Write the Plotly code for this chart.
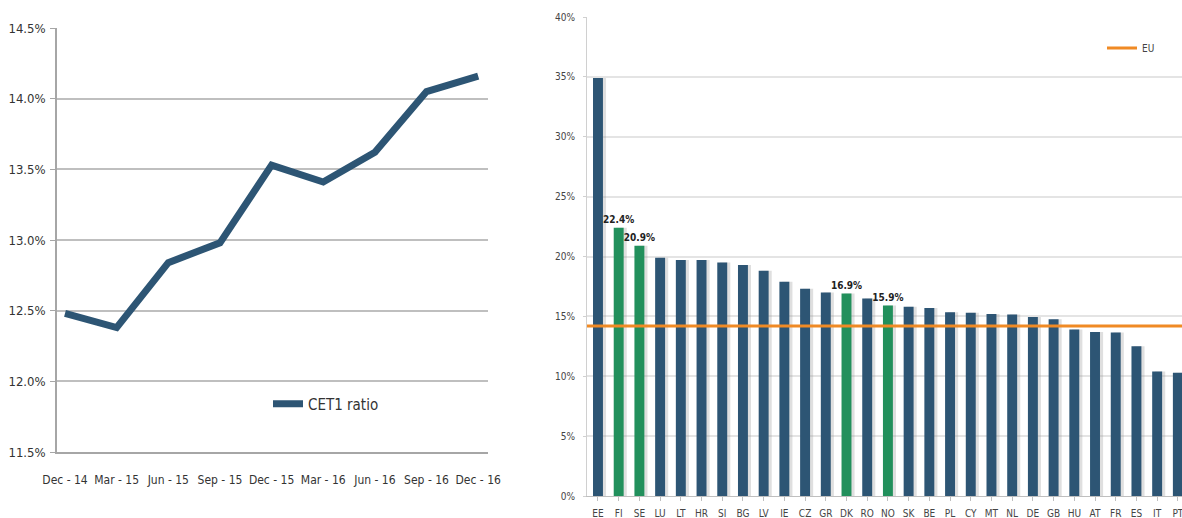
import plotly.graph_objects as go

# ---- CET1 ratio over time (left panel) ----
quarters = ["Dec - 14", "Mar - 15", "Jun - 15", "Sep - 15", "Dec - 15",
            "Mar - 16", "Jun - 16", "Sep - 16", "Dec - 16"]
cet1_ratio = [12.48, 12.38, 12.84, 12.98, 13.53, 13.41, 13.62, 14.05, 14.16]

# ---- CET1 ratio by country (right panel) ----
countries = ["EE", "FI", "SE", "LU", "LT", "HR", "SI", "BG", "LV", "IE", "CZ", "GR",
             "DK", "RO", "NO", "SK", "BE", "PL", "CY", "MT", "NL", "DE", "GB", "HU",
             "AT", "FR", "ES", "IT", "PT"]
country_ratio = [34.9, 22.4, 20.9, 19.9, 19.7, 19.7, 19.5, 19.3, 18.8, 17.9, 17.3, 17.0,
                 16.9, 16.5, 15.9, 15.8, 15.7, 15.35, 15.3, 15.2, 15.15, 14.95, 14.75, 13.9,
                 13.7, 13.65, 12.5, 10.4, 10.3]
nordic = {"FI", "SE", "DK", "NO"}
eu_average = 14.2

NAVY = "#2D5574"
GREEN = "#22905C"
ORANGE = "#F08A24"
FONT = "DejaVu Sans Condensed, Liberation Sans Narrow, Roboto, sans-serif"

W, H = 1182, 518


def px_x(p):
    return p / W


def px_y(p):
    return 1 - p / H


fig = go.Figure()

x_idx = list(range(len(quarters)))
fig.add_trace(go.Scatter(
    x=x_idx, y=cet1_ratio, mode="lines", name="CET1 ratio",
    line=dict(color=NAVY, width=7), xaxis="x", yaxis="y", legend="legend",
))

bar_colors = [GREEN if c in nordic else NAVY for c in countries]
bar_text = [f"{v:.1f}%" if c in nordic else "" for c, v in zip(countries, country_ratio)]

# soft drop shadow behind each bar
fig.add_trace(go.Bar(
    x=[i + 0.14 for i in range(len(countries))], y=country_ratio,
    marker=dict(color="rgba(150,150,150,0.3)", line=dict(width=0)),
    width=0.5, showlegend=False, hoverinfo="skip", xaxis="x2", yaxis="y2",
))
fig.add_trace(go.Bar(
    x=list(range(len(countries))), y=country_ratio,
    marker=dict(color=bar_colors, line=dict(width=0)),
    width=0.48, text=bar_text, textposition="outside", cliponaxis=False,
    constraintext="none",
    textfont=dict(family=FONT, size=10, color="#222222", weight="bold"),
    showlegend=False, xaxis="x2", yaxis="y2",
))
fig.add_trace(go.Scatter(
    x=[-0.53, 28.2], y=[eu_average, eu_average], mode="lines", name="EU",
    line=dict(color=ORANGE, width=3), xaxis="x2", yaxis="y2", legend="legend2",
))

fig.update_layout(
    width=W, height=H,
    margin=dict(l=0, r=0, t=0, b=0),
    paper_bgcolor="white", plot_bgcolor="white",
    font=dict(family=FONT, color="#333333"),
    barmode="overlay",
    xaxis=dict(
        domain=[px_x(57), px_x(488)], range=[-0.155, 8.19],
        tickmode="array", tickvals=x_idx, ticktext=quarters, tickangle=0,
        ticks="", showgrid=False, zeroline=False, automargin=False,
        showline=True, linecolor="#A6A6A6", linewidth=1.5,
        tickfont=dict(size=12, color="#333333"), ticklabelstandoff=16,
        anchor="y",
    ),
    xaxis3=dict(
        overlaying="x", range=[-0.155, 8.19],
        tickmode="array", tickvals=[i - 0.155 for i in x_idx],
        ticks="outside", ticklen=6, tickcolor="#A6A6A6", tickwidth=1.5,
        showticklabels=False, showgrid=False, zeroline=False, anchor="y",
        automargin=False,
    ),
    yaxis=dict(
        domain=[px_y(452), px_y(28)], range=[11.5, 14.5],
        tickmode="linear", tick0=11.5, dtick=0.5, tickformat=".1f", ticksuffix="%",
        ticks="outside", ticklen=5, tickcolor="#A6A6A6",
        showgrid=True, gridcolor="#BFBFBF", gridwidth=1.5, zeroline=False,
        showline=True, linecolor="#A6A6A6", linewidth=1.5, automargin=False,
        tickfont=dict(size=13, color="#333333"), ticklabelstandoff=2,
        anchor="x",
    ),
    xaxis2=dict(
        domain=[px_x(587), 1.0], range=[-0.53, 28.2],
        tickmode="array", tickvals=list(range(len(countries))), ticktext=countries,
        tickangle=0, ticklabeloverflow="allow",
        tickson="boundaries", ticks="outside", ticklen=4, tickcolor="#BFBFBF",
        showgrid=False, zeroline=False, automargin=False,
        showline=True, linecolor="#BFBFBF", linewidth=1,
        tickfont=dict(size=10, color="#444444"), ticklabelstandoff=4,
        anchor="y2",
    ),
    yaxis2=dict(
        domain=[px_y(496), px_y(17)], range=[0, 40],
        tickmode="linear", tick0=0, dtick=5, ticksuffix="%",
        ticks="outside", ticklen=3, tickcolor="#D0D0D0",
        showgrid=True, gridcolor="#E4E4E4", gridwidth=1.5, zeroline=False,
        showline=True, linecolor="#D0D0D0", linewidth=1, automargin=False,
        tickfont=dict(size=10, color="#444444"), ticklabelstandoff=6,
        anchor="x2",
    ),
    legend=dict(
        x=px_x(268), y=px_y(404), xanchor="left", yanchor="middle",
        bgcolor="rgba(0,0,0,0)", font=dict(size=15, color="#333333"),
    ),
    legend2=dict(
        x=px_x(1102), y=px_y(48), xanchor="left", yanchor="middle",
        bgcolor="rgba(0,0,0,0)", font=dict(size=10, color="#444444"),
    ),
)

fig.write_html("out.html")
